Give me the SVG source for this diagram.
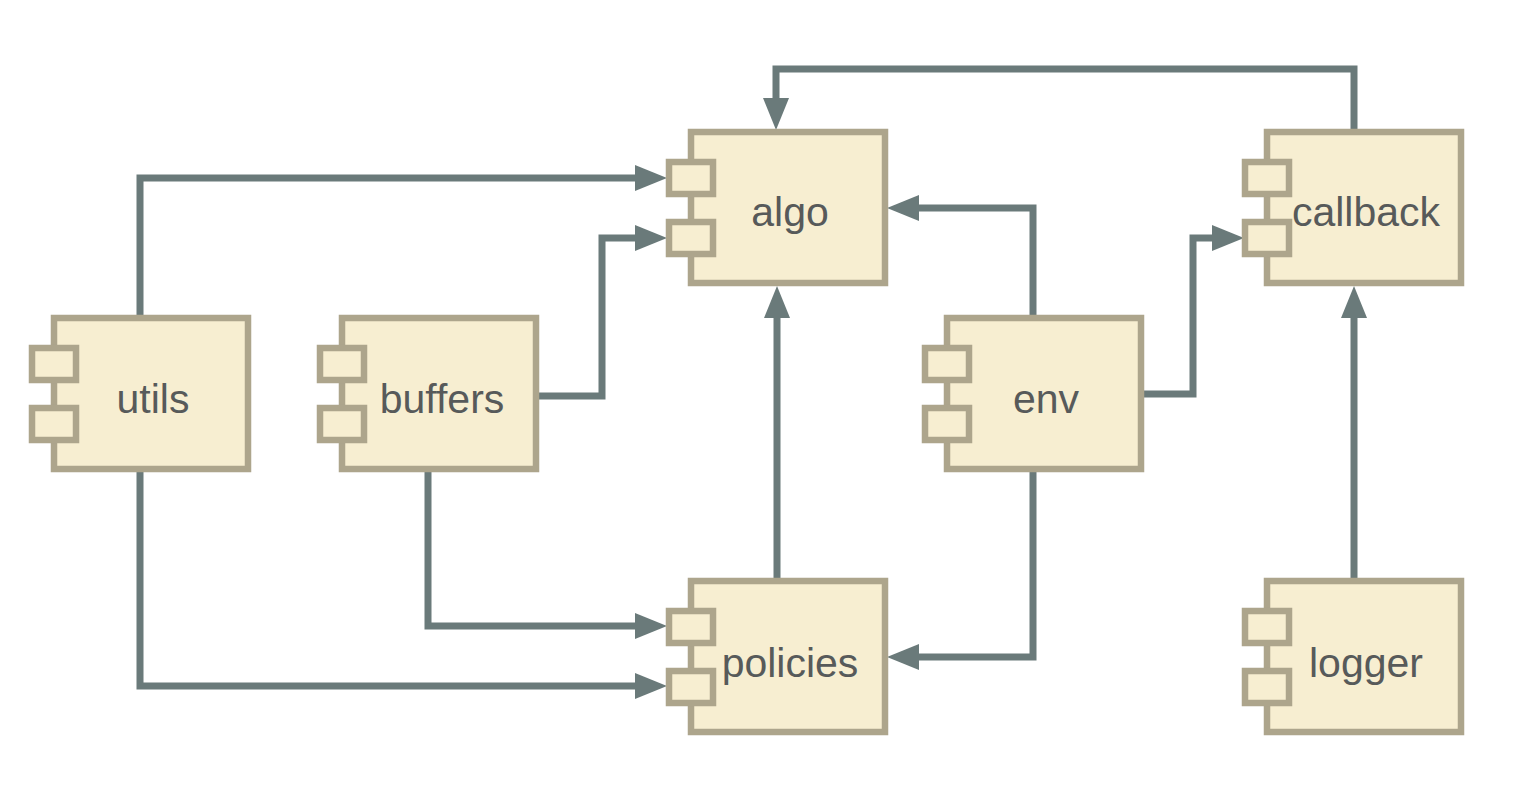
<svg xmlns="http://www.w3.org/2000/svg" width="1532" height="794" viewBox="0 0 1532 794">
<style>
.box{fill:#f7eed1;stroke:#ada58c;stroke-width:6.5}
.port{fill:#f7eed1;stroke:#ada58c;stroke-width:6.5}
.lbl{font-family:"Liberation Sans",Arial,sans-serif;font-size:41px;fill:#575a5a;text-anchor:middle}
.edge{fill:none;stroke:#6a7a7a;stroke-width:7;stroke-linejoin:miter}
</style>
<defs>
<marker id="ah" viewBox="0 0 32 26" refX="4" refY="13" markerWidth="32" markerHeight="26" markerUnits="userSpaceOnUse" orient="auto">
<path d="M0,0 L32,13 L0,26 z" fill="#6a7a7a"/>
</marker>
</defs>
<rect width="1532" height="794" fill="#ffffff"/>
<g id="connectors">
<path class="edge" d="M140,315 V178 H639" marker-end="url(#ah)"/>
<path class="edge" d="M539,396 H602 V238 H639" marker-end="url(#ah)"/>
<path class="edge" d="M1354,129 V69 H776 V102" marker-end="url(#ah)"/>
<path class="edge" d="M1033,315 V208 H915" marker-end="url(#ah)"/>
<path class="edge" d="M777,578 V314" marker-end="url(#ah)"/>
<path class="edge" d="M1143,394 H1193 V238 H1216" marker-end="url(#ah)"/>
<path class="edge" d="M428,472 V626 H639" marker-end="url(#ah)"/>
<path class="edge" d="M140,472 V686 H639" marker-end="url(#ah)"/>
<path class="edge" d="M1033,472 V657 H915" marker-end="url(#ah)"/>
<path class="edge" d="M1354,578 V314" marker-end="url(#ah)"/>
</g>
<g id="algo">
<rect class="box" x="691" y="132" width="194" height="151"/>
<rect class="port" x="669" y="162" width="44" height="32"/>
<rect class="port" x="669" y="222" width="44" height="32"/>
<text class="lbl" x="790" y="226">algo</text>
</g>
<g id="callback">
<rect class="box" x="1267" y="132" width="194" height="151"/>
<rect class="port" x="1245" y="162" width="44" height="32"/>
<rect class="port" x="1245" y="222" width="44" height="32"/>
<text class="lbl" x="1366" y="226">callback</text>
</g>
<g id="utils">
<rect class="box" x="54" y="318" width="194" height="151"/>
<rect class="port" x="32" y="348" width="44" height="32"/>
<rect class="port" x="32" y="408" width="44" height="32"/>
<text class="lbl" x="153" y="413">utils</text>
</g>
<g id="buffers">
<rect class="box" x="342" y="318" width="194" height="151"/>
<rect class="port" x="320" y="348" width="44" height="32"/>
<rect class="port" x="320" y="408" width="44" height="32"/>
<text class="lbl" x="442" y="413">buffers</text>
</g>
<g id="env">
<rect class="box" x="947" y="318" width="194" height="151"/>
<rect class="port" x="925" y="348" width="44" height="32"/>
<rect class="port" x="925" y="408" width="44" height="32"/>
<text class="lbl" x="1046" y="413">env</text>
</g>
<g id="policies">
<rect class="box" x="691" y="581" width="194" height="151"/>
<rect class="port" x="669" y="611" width="44" height="32"/>
<rect class="port" x="669" y="671" width="44" height="32"/>
<text class="lbl" x="790" y="677">policies</text>
</g>
<g id="logger">
<rect class="box" x="1267" y="581" width="194" height="151"/>
<rect class="port" x="1245" y="611" width="44" height="32"/>
<rect class="port" x="1245" y="671" width="44" height="32"/>
<text class="lbl" x="1366" y="677">logger</text>
</g>
</svg>
